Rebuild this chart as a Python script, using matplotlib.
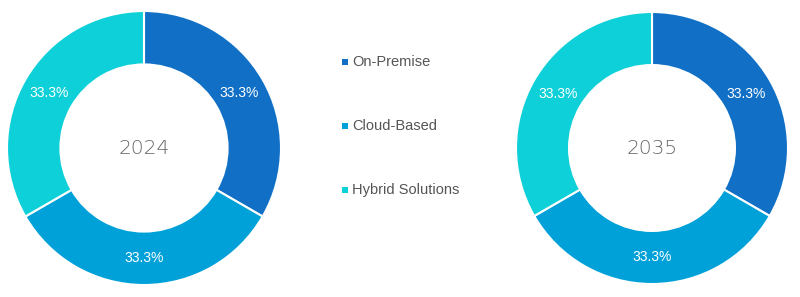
import matplotlib
matplotlib.use("Agg")
import matplotlib.pyplot as plt
from matplotlib.patches import Rectangle

categories = ["On-Premise", "Cloud-Based", "Hybrid Solutions"]
values_2024 = [33.3, 33.3, 33.3]
values_2035 = [33.3, 33.3, 33.3]
years = ["2024", "2035"]
colors = ["#1170C6", "#00A0D8", "#0DD0D8"]

W, H = 800, 297
fig = plt.figure(figsize=(W / 100, H / 100), dpi=100)
fig.patch.set_facecolor("white")


def donut(cx, cy, r, vals, year):
    ax = fig.add_axes([(cx - r) / W, (H - cy - r) / H, 2 * r / W, 2 * r / H])
    wedges, texts = ax.pie(
        vals, colors=colors, startangle=90, counterclock=False, radius=1,
        wedgeprops=dict(width=0.39, edgecolor="white", linewidth=1.5),
        labels=[f"{v:.1f}%" for v in vals], labeldistance=0.8,
        textprops=dict(color="white", fontsize=10, family="Liberation Sans",
                       ha="center", va="center"))
    ax.text(0, 0.0, year, ha="center", va="center", fontsize=14.5,
            color="#666666", family="DejaVu Sans", fontweight="light")
    ax.set_xlim(-1, 1)
    ax.set_ylim(-1, 1)
    ax.set_aspect("equal")
    ax.axis("off")


donut(144, 148, 137, values_2024, years[0])
donut(652, 148, 136, values_2035, years[1])

leg_y = [62, 126, 190]
for name, c, y in zip(categories, colors, leg_y):
    fig.patches.append(Rectangle((342 / W, (H - y - 3) / H), 6 / W, 6 / H,
                                 transform=fig.transFigure, facecolor=c,
                                 edgecolor="none"))
    fig.text(352 / W, (H - y) / H, name, ha="left", va="center", fontsize=10.5,
             color="#555555", family="Liberation Sans")

fig.savefig("out.png", dpi=100, facecolor="white")
